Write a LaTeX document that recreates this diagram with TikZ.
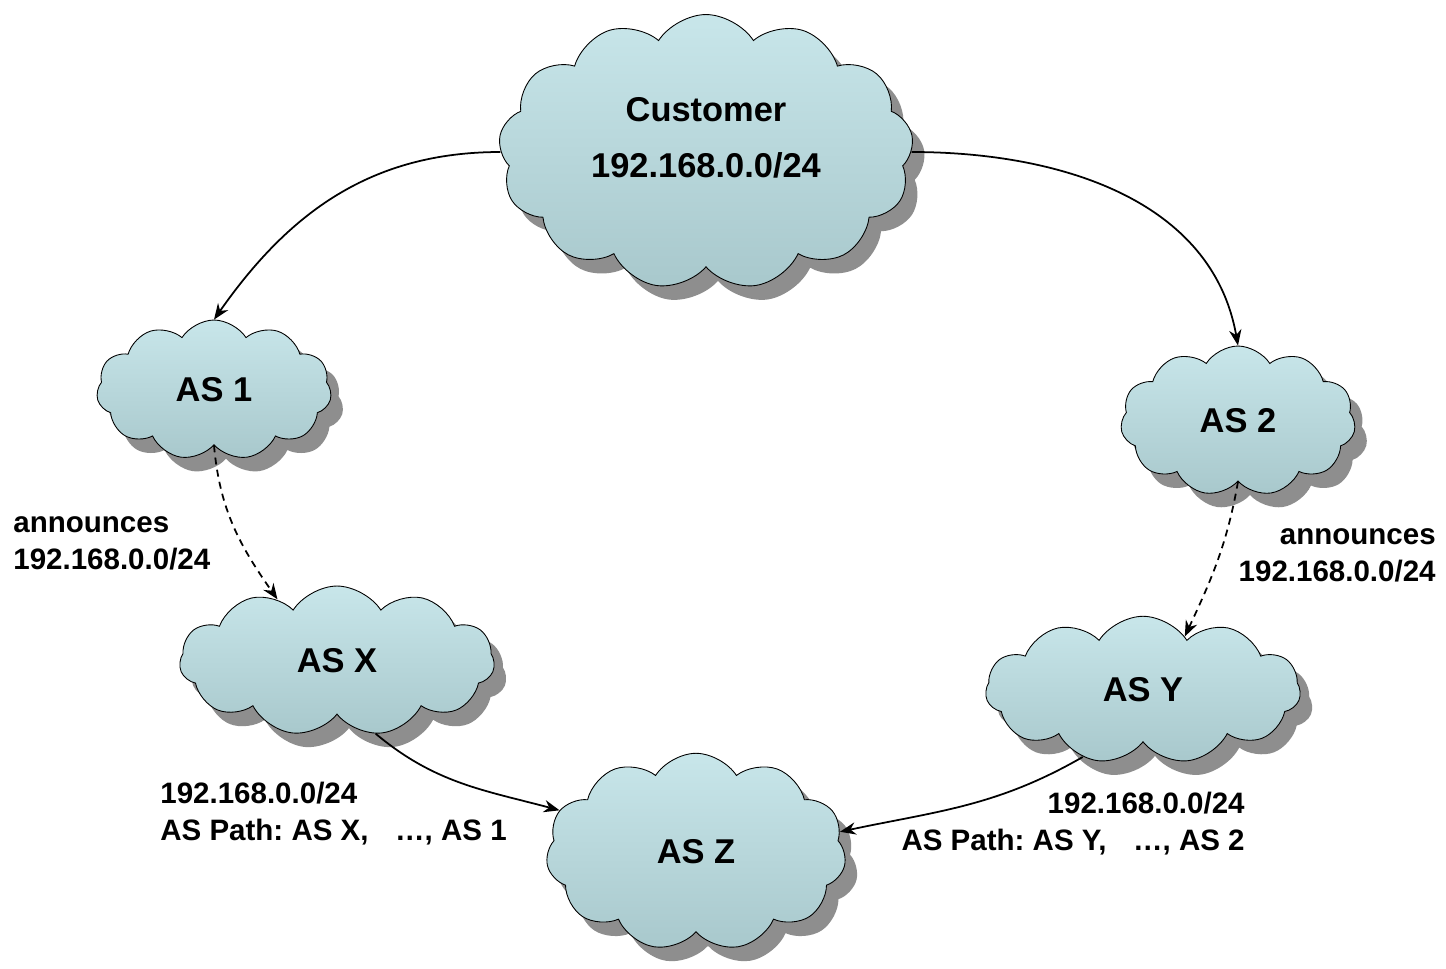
\documentclass[tikz,border=0pt]{standalone}
\usepackage{fontspec}
\setmainfont{Liberation Sans}
\usepackage{tikz}
\usetikzlibrary{arrows.meta,shapes.symbols,shadows}
\definecolor{cloudtop}{HTML}{C8E6EA}
\definecolor{cloudbot}{HTML}{A8C8CC}
\definecolor{shade}{HTML}{8E8E8E}
\frenchspacing

\begin{document}
\begin{tikzpicture}[
  x=0.02cm, y=-0.02cm,
  font=\bfseries,
  cloudbox/.style={cloud, cloud puffs=11, cloud puff arc=115, cloud ignores aspect, draw=black, line width=0.5pt,
    top color=cloudtop, bottom color=cloudbot, align=center,
    font=\fontsize{19.6}{23}\selectfont\bfseries,
    drop shadow={shadow xshift=0.24cm, shadow yshift=-0.28cm, fill=shade, opacity=1}},
  lbl/.style={font=\fontsize{16.8}{21}\selectfont\bfseries, inner sep=0pt},
  arrow/.style={-{Stealth[length=9pt,width=7pt]}, line width=1pt, draw=black},
  dasharrow/.style={arrow, dash pattern=on 4pt off 3pt}
]
  \useasboundingbox[fill=white] (0,0) rectangle (1446,968);

  % the clouds
  \node[cloudbox, cloud puffs=13, minimum width=8.3cm, minimum height=5.5cm] (cust) at (706,152)
    {\raisebox{2pt}{\smash{\begin{tabular}{@{}c@{}}Customer\\[9pt]192.168.0.0/24\end{tabular}}}};
  \node[cloudbox, minimum width=4.7cm, minimum height=2.8cm] (as1) at (214,390) {AS 1};
  \node[cloudbox, minimum width=4.7cm, minimum height=3.0cm] (as2) at (1238,421) {AS 2};
  \node[cloudbox, minimum width=6.3cm, minimum height=3.0cm] (asx) at (337,661) {AS X};
  \node[cloudbox, minimum width=6.3cm, minimum height=2.95cm] (asy) at (1143,690) {AS Y};
  \node[cloudbox, minimum width=6.0cm, minimum height=3.95cm] (asz) at (696,852) {AS Z};

  % labels
  \node[lbl, anchor=west, align=left] (ann1) at (13,543) {announces\\192.168.0.0/24};
  \node[lbl, anchor=east, align=right] (ann2) at (1436,555) {announces\\192.168.0.0/24};
  \node[lbl, anchor=west, align=left] (path1) at (160,814) {192.168.0.0/24\\AS Path: AS X,\hspace{0.9em}…, AS 1};
  \node[lbl, anchor=east, align=right] (path2) at (1245,824) {192.168.0.0/24\\AS Path: AS Y,\hspace{0.9em}…, AS 2};

  % connectors
  \draw[arrow] (cust.west) to[out=180, in=55] (as1.north);
  \draw[arrow] (cust.east) to[out=0, in=100] (as2.north);
  \draw[dasharrow] (as1.south) to[out=-85, in=125] (asx.134);
  \draw[dasharrow] (as2.south) to[out=-100, in=65] (asy.52);
  \draw[arrow] (asx.-62) to[out=-40, in=165] (asz.163);
  \draw[arrow] (asy.-132) to[out=210, in=12] (asz.8);
\end{tikzpicture}
\end{document}
